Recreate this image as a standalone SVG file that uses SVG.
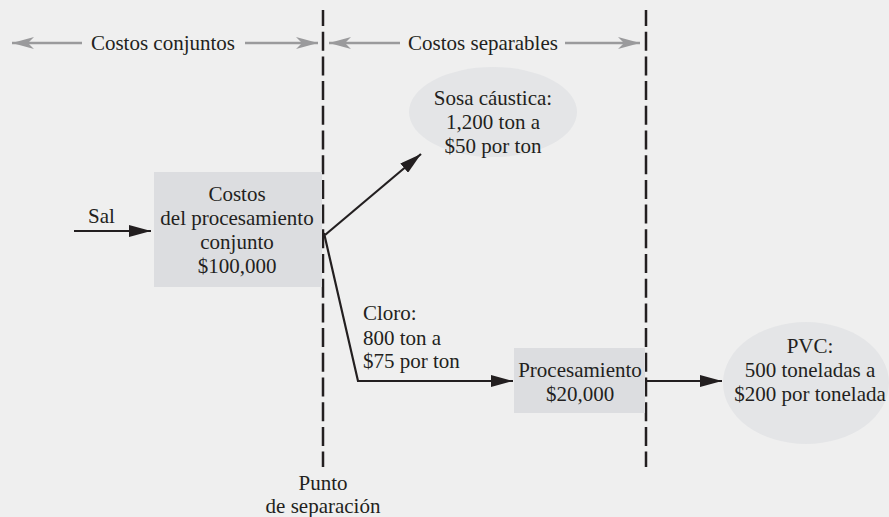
<svg xmlns="http://www.w3.org/2000/svg" width="889" height="517" viewBox="0 0 889 517">
<defs>
<style>
text{font-family:"Liberation Serif","Times New Roman",serif;font-size:21px;fill:#231f20}
.c{text-anchor:middle}
.dash{stroke:#231f20;stroke-width:2.5;stroke-dasharray:19 5.7;fill:none}
.gray{stroke:#9a9a9c;stroke-width:2.3;fill:none}
.blk{stroke:#231f20;stroke-width:2.2;fill:none}
.box{fill:#dcdde0}
.ell{fill:#e4e5e7}
</style>
<marker id="ga" viewBox="0 0 22 12" refX="22" refY="6" markerWidth="22" markerHeight="12" markerUnits="userSpaceOnUse" orient="auto-start-reverse">
<path d="M0,0 L22,6 L0,12 L6,6 Z" fill="#9a9a9c"/>
</marker>
<marker id="ba" viewBox="0 0 22 12" refX="22" refY="6" markerWidth="22" markerHeight="12" markerUnits="userSpaceOnUse" orient="auto">
<path d="M0,0 L22,6 L0,12 Z" fill="#231f20"/>
</marker>
</defs>
<rect width="889" height="517" fill="#efefef"/>
<g id="dividers">
<line class="dash" x1="323" y1="10" x2="323" y2="467" stroke-dashoffset="3"/>
<line class="dash" x1="646" y1="10" x2="646" y2="467" stroke-dashoffset="3"/>
</g>
<g id="headers">
<line class="gray" x1="82" y1="43" x2="12" y2="43" marker-end="url(#ga)"/>
<text class="c" x="163" y="50">Costos conjuntos</text>
<line class="gray" x1="245" y1="43" x2="318" y2="43" marker-end="url(#ga)"/>
<line class="gray" x1="400" y1="43" x2="329" y2="43" marker-end="url(#ga)"/>
<text class="c" x="483" y="50">Costos separables</text>
<line class="gray" x1="565" y1="43" x2="640" y2="43" marker-end="url(#ga)"/>
</g>
<g id="joint">
<rect class="box" x="154" y="172" width="168" height="115"/>
<text class="c" x="237" y="201">Costos</text>
<text class="c" x="237" y="225">del procesamiento</text>
<text class="c" x="237" y="249">conjunto</text>
<text class="c" x="237" y="273">$100,000</text>
</g>
<g id="sosa">
<ellipse class="ell" cx="493" cy="112" rx="84" ry="45"/>
<text class="c" x="493" y="105">Sosa cáustica:</text>
<text class="c" x="493" y="129">1,200 ton a</text>
<text class="c" x="493" y="153">$50 por ton</text>
</g>
<g id="proc">
<rect class="box" x="514" y="348" width="131" height="65"/>
<text class="c" x="580" y="377">Procesamiento</text>
<text class="c" x="580" y="401">$20,000</text>
</g>
<g id="pvc">
<ellipse class="ell" cx="806" cy="383" rx="83" ry="61"/>
<text class="c" x="810" y="353">PVC:</text>
<text class="c" x="810" y="377">500 toneladas a</text>
<text class="c" x="810" y="401">$200 por tonelada</text>
</g>
<g id="connectors">
<line class="blk" x1="74" y1="231" x2="151" y2="231" marker-end="url(#ba)"/>
<text x="88" y="223">Sal</text>
<line class="blk" x1="325" y1="235" x2="421" y2="154" marker-end="url(#ba)"/>
<polyline class="blk" points="324,233 358,381 513,381" marker-end="url(#ba)"/>
<text x="363" y="320">Cloro:</text>
<text x="363" y="345">800 ton a</text>
<text x="363" y="368">$75 por ton</text>
<line class="blk" x1="646" y1="381" x2="722" y2="381" marker-end="url(#ba)"/>
</g>
<g id="labels">
<text class="c" x="323" y="490">Punto</text>
<text class="c" x="323" y="513">de separación</text>
</g>
</svg>
